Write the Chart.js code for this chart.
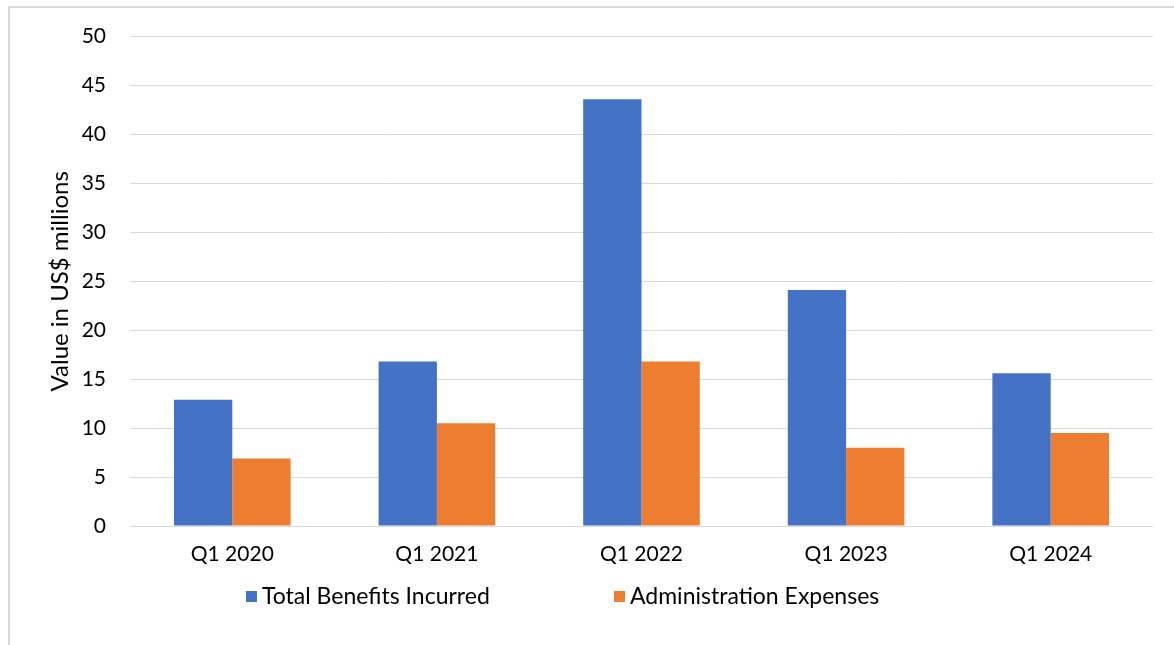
<!DOCTYPE html>
<html>
<head>
<meta charset="utf-8">
<script src="https://cdn.jsdelivr.net/npm/chart.js@4.4.1/dist/chart.umd.min.js"></script>
<style>
  html, body { margin: 0; padding: 0; background: #fff; }
  #wrap { width: 1174px; height: 645px; }
</style>
</head>
<body>
<div id="wrap"><canvas id="barChart" width="1174" height="645"></canvas></div>
<script>
const quarters = ["Q1 2020", "Q1 2021", "Q1 2022", "Q1 2023", "Q1 2024"];
const totalBenefits = [12.9, 16.8, 43.6, 24.1, 15.6];
const adminExpenses = [6.9, 10.5, 16.8, 8.0, 9.5];
const yTicks = [0, 5, 10, 15, 20, 25, 30, 35, 40, 45, 50];

const FONT = "Lato, 'Open Sans', sans-serif";

// light frame around the chart, cut off on the right and bottom
const framePlugin = {
  id: "frame",
  beforeDraw(chart) {
    const ctx = chart.ctx;
    ctx.save();
    ctx.strokeStyle = "#d9d9d9";
    ctx.lineWidth = 2;
    ctx.beginPath();
    ctx.moveTo(9, chart.height + 2);
    ctx.lineTo(9, 7);
    ctx.lineTo(chart.width + 2, 7);
    ctx.stroke();
    ctx.restore();
  },
};

// legend spaced out like the spreadsheet one
const spreadLegend = {
  id: "spreadLegend",
  afterDraw(chart) {
    const ctx = chart.ctx;
    const starts = [246, 614];
    ctx.save();
    ctx.font = "23px " + FONT;
    ctx.textBaseline = "middle";
    chart.data.datasets.forEach((ds, i) => {
      const x = starts[i];
      ctx.fillStyle = ds.backgroundColor;
      ctx.fillRect(x, 591, 11, 11);
      ctx.fillStyle = "#000";
      ctx.fillText(ds.label, x + 16, 597);
    });
    ctx.restore();
  },
};

const createBarChart = () => {
  let canvasElement = document.getElementById("barChart");

  let config = {
    type: "bar",
    data: {
      labels: quarters,
      datasets: [
        {
          label: "Total Benefits Incurred",
          data: totalBenefits,
          backgroundColor: "#4472c4",
          categoryPercentage: 0.57,
          barPercentage: 1.0,
        },
        {
          label: "Administration Expenses",
          data: adminExpenses,
          backgroundColor: "#ed7d31",
          categoryPercentage: 0.57,
          barPercentage: 1.0,
        },
      ],
    },
    options: {
      responsive: false,
      animation: false,
      layout: { padding: { left: 0, right: 21, top: 36, bottom: 0 } },
      plugins: {
        legend: { display: false },
        tooltip: { enabled: false },
      },
      scales: {
        x: {
          grid: { display: false, drawTicks: false },
          border: { display: false },
          ticks: {
            color: "#000",
            font: { family: FONT, size: 21 },
            padding: 16,
          },
          afterFit: (s) => { s.height = 119; },
        },
        y: {
          min: 0,
          max: 50,
          afterBuildTicks: (s) => { s.ticks = yTicks.map((v) => ({ value: v })); },
          grid: { color: "#d9d9d9", lineWidth: 1, drawTicks: false },
          border: { display: false },
          ticks: {
            color: "#000",
            font: { family: FONT, size: 21 },
            padding: 24,
          },
          title: {
            display: true,
            text: "Value in US$ millions",
            color: "#000",
            font: { family: FONT, size: 24 },
            padding: { top: 46, bottom: 0 },
          },
          afterFit: (s) => { s.width = 130; },
        },
      },
    },
    plugins: [framePlugin, spreadLegend],
  };
  return new Chart(canvasElement, config);
};

createBarChart();
</script>
</body>
</html>
